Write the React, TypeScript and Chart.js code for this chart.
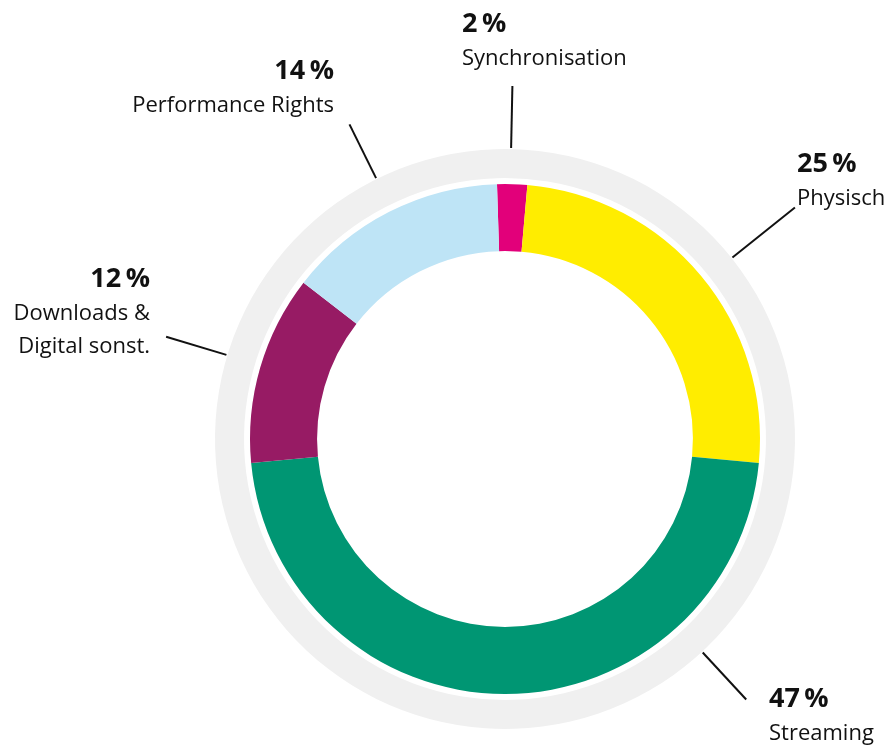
import React, { useEffect, useRef } from "react";
import { Chart, registerables } from "chart.js";

Chart.register(...registerables);

const categories = ["Synchronisation", "Physisch", "Streaming", "Downloads & Digital sonst.", "Performance Rights"];
const shares = [1.9, 25.1, 47, 12, 14];
const percentLabels = ["2\u2009%", "25\u2009%", "47\u2009%", "12\u2009%", "14\u2009%"];
const labelLines = [["Synchronisation"], ["Physisch"], ["Streaming"], ["Downloads &", "Digital sonst."], ["Performance Rights"]];
const colors = ["#e2007a", "#ffed00", "#009673", "#971b64", "#bee4f6"];

// annotation layout (leader angle in degrees clockwise from top, radii, text anchor)
const leaderAngles = [1.2, 51.4, 137.2, 286.8, 333.7];
const leaderOuter = [353, 371, 355, 354, 351];
const textAnchors = [
  { x: 462, y: 32, align: "left" },
  { x: 797, y: 172, align: "left" },
  { x: 769, y: 707, align: "left" },
  { x: 150, y: 287, align: "right" },
  { x: 334, y: 79, align: "right" },
];

const FONT = "'Open Sans', 'Noto Sans', sans-serif";

const labelPlugin = {
  id: "labels",
  afterDraw(chart: any) {
    const ctx = chart.ctx;
    const meta = chart.getDatasetMeta(2);
    const arc = meta.data[0];
    const cx = arc.x;
    const cy = arc.y;
    const ringOuter = chart.getDatasetMeta(0).data[0].outerRadius;
    ctx.save();
    ctx.strokeStyle = "#111";
    ctx.lineWidth = 2;
    leaderAngles.forEach((deg, i) => {
      const a = (deg * Math.PI) / 180;
      const r0 = ringOuter + 1;
      const r1 = leaderOuter[i];
      ctx.beginPath();
      ctx.moveTo(cx + Math.sin(a) * r0, cy - Math.cos(a) * r0);
      ctx.lineTo(cx + Math.sin(a) * r1, cy - Math.cos(a) * r1);
      ctx.stroke();
    });
    ctx.fillStyle = "#111";
    textAnchors.forEach((t, i) => {
      ctx.textAlign = t.align;
      ctx.textBaseline = "alphabetic";
      ctx.font = `bold 27px ${FONT}`;
      ctx.fillText(percentLabels[i], t.x, t.y);
      ctx.font = `22px ${FONT}`;
      labelLines[i].forEach((ln, j) => {
        ctx.fillText(ln, t.x, t.y + 32.5 + j * 33);
      });
    });
    ctx.restore();
  },
};

export default function App() {
  const ref = useRef<HTMLCanvasElement>(null);
  useEffect(() => {
    const chart = new Chart(ref.current!, {
      type: "doughnut",
      data: {
        labels: categories,
        datasets: [
          { data: [100], backgroundColor: ["#f0f0f0"], borderWidth: 0, weight: 29 } as any,
          { data: [100], backgroundColor: ["rgba(0,0,0,0)"], borderWidth: 0, weight: 6 } as any,
          { data: shares, backgroundColor: colors, borderWidth: 0, weight: 67 } as any,
        ],
      },
      options: {
        animation: false,
        responsive: false,
        rotation: -1.8,
        cutout: "64.8%",
        layout: { padding: { left: 215, right: 90, top: 149, bottom: 19 } },
        plugins: { legend: { display: false }, tooltip: { enabled: false } },
      },
      plugins: [labelPlugin],
    });
    return () => chart.destroy();
  }, []);
  return (
    <div style={{ position: "absolute", left: 0, top: 0, width: 885, height: 748, overflow: "hidden" }}>
      <canvas ref={ref} width={885} height={748} style={{ display: "block" }} />
    </div>
  );
}
